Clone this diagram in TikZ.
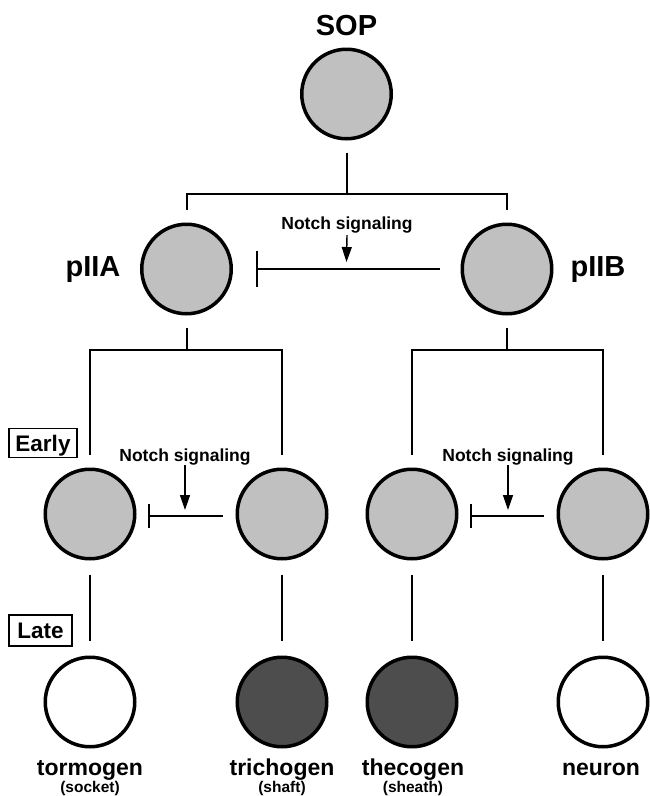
\documentclass[tikz,border=0pt]{standalone}
\usepackage{fontspec}
\setmainfont{Liberation Sans}
\usetikzlibrary{arrows.meta}
\definecolor{cellgray}{RGB}{192,192,192}
\definecolor{celldark}{RGB}{77,77,77}
\begin{document}
\begin{tikzpicture}[x=1pt,y=-1pt,
  cell/.style={circle,draw=black,line width=3.5pt,minimum size=89.5pt,inner sep=0pt,fill=cellgray},
  darkcell/.style={cell,fill=celldark},
  whitecell/.style={cell,fill=white},
  conn/.style={line width=2pt},
  inhib/.style={conn,-{Bar[width=#1,line width=2pt]}},
  arr/.style={line width=1.4pt,-{Triangle[length=15pt,width=10pt]}},
  big/.style={font=\fontsize{29}{30}\selectfont\bfseries,inner sep=0pt,anchor=base},
  notch/.style={font=\fontsize{17.5}{18}\selectfont\bfseries,inner sep=0pt,anchor=base},
  cname/.style={font=\fontsize{23}{24}\selectfont\bfseries,inner sep=0pt,anchor=base},
  csub/.style={font=\fontsize{15.5}{16}\selectfont\bfseries,inner sep=0pt,anchor=base},
  stage/.style={draw,line width=1.3pt,font=\fontsize{22.5}{23}\selectfont\bfseries,inner sep=0pt,text height=16pt,text depth=0pt}]
\useasboundingbox (0,0) rectangle (649,796);

% cells
\node[cell] (sop) at (346.5,94) {};
\node[cell] (pIIA) at (186.5,269) {};
\node[cell] (pIIB) at (507,269) {};
\node[cell] (c1) at (90,514) {};
\node[cell] (c2) at (282,514) {};
\node[cell] (c3) at (412,514) {};
\node[cell] (c4) at (603,514) {};
\node[whitecell] (d1) at (90,702) {};
\node[darkcell] (d2) at (282,702) {};
\node[darkcell] (d3) at (412,702) {};
\node[whitecell] (d4) at (603,702) {};

% labels
\node[big] (lsop) at (346.5,35) {SOP};
\node[big] (lA) at (93,276) {pIIA};
\node[big] (lB) at (598,276) {pIIB};
\node[stage,minimum width=68pt,minimum height=29pt] (early) at (43,443) {Early};
\node[stage,minimum width=63pt,minimum height=31pt] (late) at (40.5,630.5) {Late};

\node[cname] (t1) at (90,775.5) {tormogen};
\node[csub] (s1) at (90,792.5) {(socket)};
\node[cname] (t2) at (282,775.5) {trichogen};
\node[csub] (s2) at (282,792.5) {(shaft)};
\node[cname] (t3) at (413,775.5) {thecogen};
\node[csub] (s3) at (413,792.5) {(sheath)};
\node[cname] (t4) at (601,775.5) {neuron};

% lineage connectors
\coordinate (j0) at (346.5,194);
\draw[conn] ([yshift=-12pt]sop.south) -- (j0);
\draw[conn] ([yshift=13pt]pIIA.north) |- (j0) -| ([yshift=13pt]pIIB.north);

\coordinate (jA) at (186.5,350);
\coordinate (jB) at (507,350);
\draw[conn] ([yshift=-12pt]pIIA.south) -- (jA);
\draw[conn] ([yshift=13pt]c1.north) |- (jA) -| ([yshift=13pt]c2.north);
\draw[conn] ([yshift=-12pt]pIIB.south) -- (jB);
\draw[conn] ([yshift=13pt]c3.north) |- (jB) -| ([yshift=13pt]c4.north);

\foreach \a/\b in {c1/d1,c2/d2,c3/d3,c4/d4}
  \draw[conn] ([yshift=-14pt]\a.south) -- ([yshift=15pt]\b.north);

% Notch signaling
\node[notch] (n0) at (347,229) {Notch signaling};
\node[notch] (n1) at (185,461) {Notch signaling};
\node[notch] (n2) at (508,461) {Notch signaling};

\draw[inhib=36pt] ([xshift=-21pt]pIIB.west) -- ([xshift=23pt]pIIA.east);
\draw[inhib=24pt] ([xshift=-13pt,yshift=-2pt]c2.west) -- ([xshift=11pt,yshift=-2pt]c1.east);
\draw[inhib=24pt] ([xshift=-13pt,yshift=-2pt]c4.west) -- ([xshift=11pt,yshift=-2pt]c3.east);

\coordinate (a0) at (346.5,262);
\coordinate (a1) at (185,510);
\coordinate (a2) at (508,510);
\draw[arr] (n0.south |- 0,235) -- (a0);
\draw[arr] (n1.south |- 0,465) -- (a1);
\draw[arr] (n2.south |- 0,465) -- (a2);
\end{tikzpicture}
\end{document}
